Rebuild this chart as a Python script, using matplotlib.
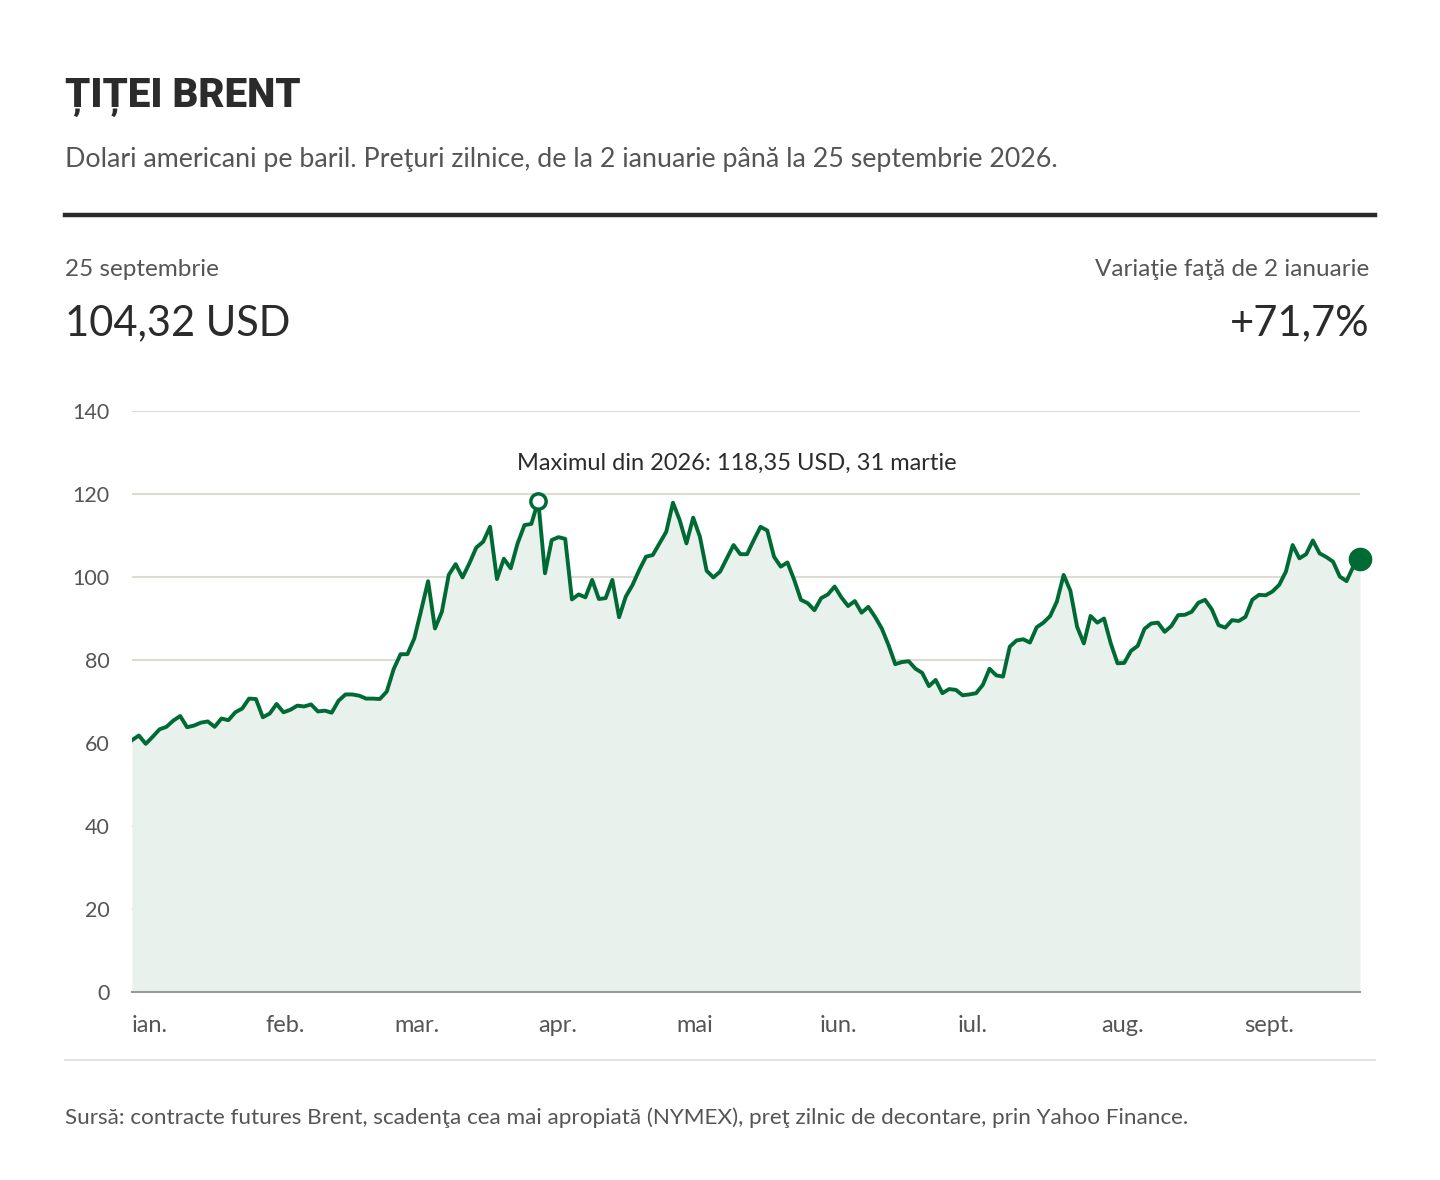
import matplotlib
matplotlib.use("Agg")
import matplotlib.pyplot as plt
import matplotlib.transforms as mtransforms
import pandas as pd
import numpy as np

plt.rcParams['font.family'] = ['Lato', 'Noto Sans', 'DejaVu Sans']

start_date = "2026-01-02"
end_date = "2026-09-25"
prices = [60.7, 61.8, 59.8, 61.5, 63.3, 63.9, 65.4, 66.5, 63.8, 64.2, 64.9, 65.2, 63.9, 65.9, 65.5,
          67.4, 68.3, 70.7, 70.6, 66.2, 67.1, 69.4, 67.4, 68.0, 69.0, 68.8, 69.3, 67.6, 67.8, 67.3,
          70.2, 71.7, 71.7, 71.4, 70.7, 70.7, 70.6, 72.4, 77.8, 81.4, 81.4, 85.2, 92.0, 99.0, 87.6,
          91.6, 100.5, 103.1, 99.9, 103.3, 107.1, 108.5, 112.1, 99.5, 104.4, 102.1, 108.1, 112.5,
          112.8, 118.35, 100.9, 108.9, 109.6, 109.2, 94.6, 95.8, 95.1, 99.3, 94.7, 94.9, 99.3, 90.3,
          95.3, 98.1, 101.7, 104.9, 105.3, 108.1, 110.9, 117.9, 113.7, 108.1, 114.3, 109.7, 101.5,
          99.9, 101.3, 104.5, 107.7, 105.5, 105.5,
          108.9, 112.1, 111.2, 104.9, 102.5, 103.5, 99.3, 94.5, 93.7, 92.0, 94.9, 95.8, 97.7, 95.1,
          93.0, 94.2, 91.4, 92.8, 90.4, 87.6, 83.6, 79.0, 79.5, 79.7, 77.9, 76.9, 73.7, 75.2, 72.0,
          73.0, 72.8, 71.5, 71.7, 72.0, 74.0, 77.9, 76.3, 76.0, 83.2, 84.7, 85.0, 84.2, 87.9, 89.0,
          90.6, 94.1, 100.5,
          96.7, 88.0, 84.0, 90.6, 89.0, 90.0, 84.0, 79.2, 79.3, 82.2, 83.4, 87.5, 88.8, 89.0, 86.8,
          88.2, 90.8, 90.9, 91.6, 93.8, 94.5, 92.2, 88.4, 87.8, 89.6, 89.4, 90.4, 94.5, 95.7, 95.6,
          96.5, 98.1, 101.3, 107.7, 104.5, 105.5, 108.8, 105.7, 104.8, 103.7, 100.1, 99.0, 102.5,
          104.32]
max_date = "2026-03-31"
max_value = 118.35
month_labels = ["ian.", "feb.", "mar.", "apr.", "mai", "iun.", "iul.", "aug.", "sept."]
yticks = [0, 20, 40, 60, 80, 100, 120, 140]

imax = prices.index(max_value)
n = len(prices)
d0 = pd.Timestamp(start_date); dm = pd.Timestamp(max_date); d1 = pd.Timestamp(end_date)
first = pd.date_range(d0, dm, periods=imax + 1)
second = pd.date_range(dm, d1, periods=n - imax)[1:]
dates = first.append(second)

GREEN = "#006a35"
FILL = "#e8f1eb"
GRID = "#dcdcd2"
DARK = "#2b2b2b"
GRAY = "#555555"

fig = plt.figure(figsize=(14.4, 11.8), dpi=100)
ax = fig.add_axes([132/1440, 1-992/1180, (1360-132)/1440, (992-411)/1180])

ax.fill_between(dates, prices, 0, color=FILL, lw=0)
ax.plot(dates, prices, color=GREEN, lw=2.8, solid_joinstyle='round')
ax.plot([dm], [max_value], 'o', ms=11, mfc='white', mec=GREEN, mew=2.5, zorder=5)
ax.plot([d1], [prices[-1]], 'o', ms=16, color=GREEN, zorder=5, clip_on=False)
ax.text(pd.Timestamp("2026-05-13"), 127.5, "Maximul din 2026: 118,35 USD, 31 martie",
        ha='center', va='center', fontsize=17, color=DARK)

ax.set_xlim(d0, d1)
ax.set_ylim(0, 140)
ax.set_yticks(yticks)
ax.set_yticklabels([str(v) for v in yticks], fontsize=15.5, color=GRAY)
ax.grid(axis='y', color=GRID, lw=1.5)
ax.set_axisbelow(True)
for s in ['top', 'right', 'left']:
    ax.spines[s].set_visible(False)
ax.spines['bottom'].set_color('#999999')
ax.spines['bottom'].set_linewidth(1.5)
ax.tick_params(axis='y', length=0, pad=16)
ax.tick_params(axis='x', length=0)
ax.set_xticks([])
month_starts = [pd.Timestamp(2026, m, 1) for m in range(1, 10)]
shift = mtransforms.offset_copy(ax.transData, fig=fig, x=-5, y=0, units='dots')
for i, (ms_, lab) in enumerate(zip(month_starts, month_labels)):
    if i == 0:
        ax.text(d0, -8, lab, ha='left', va='center', fontsize=17, color=GRAY)
    else:
        ax.text(ms_, -8, lab, ha='left', va='center', fontsize=17, color=GRAY, transform=shift)

fig.text(65/1440, 1-97/1180, "ȚIȚEI BRENT", fontsize=29, fontweight='heavy', color=DARK,
         va='center', ha='left', family=['Roboto', 'Noto Sans', 'DejaVu Sans'])
fig.text(65/1440, 1-160/1180, "Dolari americani pe baril. Preţuri zilnice, de la 2 ianuarie până la 25 septembrie 2026.",
         fontsize=19.3, color=GRAY, va='center', ha='left')
fig.add_artist(plt.Line2D([65/1440, 1375/1440], [1-215/1180]*2, color=DARK, lw=3.2))
fig.text(65/1440, 1-269/1180, "25 septembrie", fontsize=17.5, color=GRAY, va='center')
fig.text(65/1440, 1-323/1180, "104,32 USD", fontsize=30, color=DARK, va='center')
fig.text(1369/1440, 1-269/1180, "Variaţie faţă de 2 ianuarie", fontsize=17.5, color=GRAY, va='center', ha='right')
fig.text(1369/1440, 1-323/1180, "+71,7%", fontsize=30, color=DARK, va='center', ha='right')
fig.add_artist(plt.Line2D([65/1440, 1375/1440], [1-1060/1180]*2, color='#dddddd', lw=1.2))
fig.text(65/1440, 1-1118/1180,
         "Sursă: contracte futures Brent, scadenţa cea mai apropiată (NYMEX), preţ zilnic de decontare, prin Yahoo Finance.",
         fontsize=16.2, color=GRAY, va='center')

fig.savefig("out.png", dpi=100, facecolor='white')
